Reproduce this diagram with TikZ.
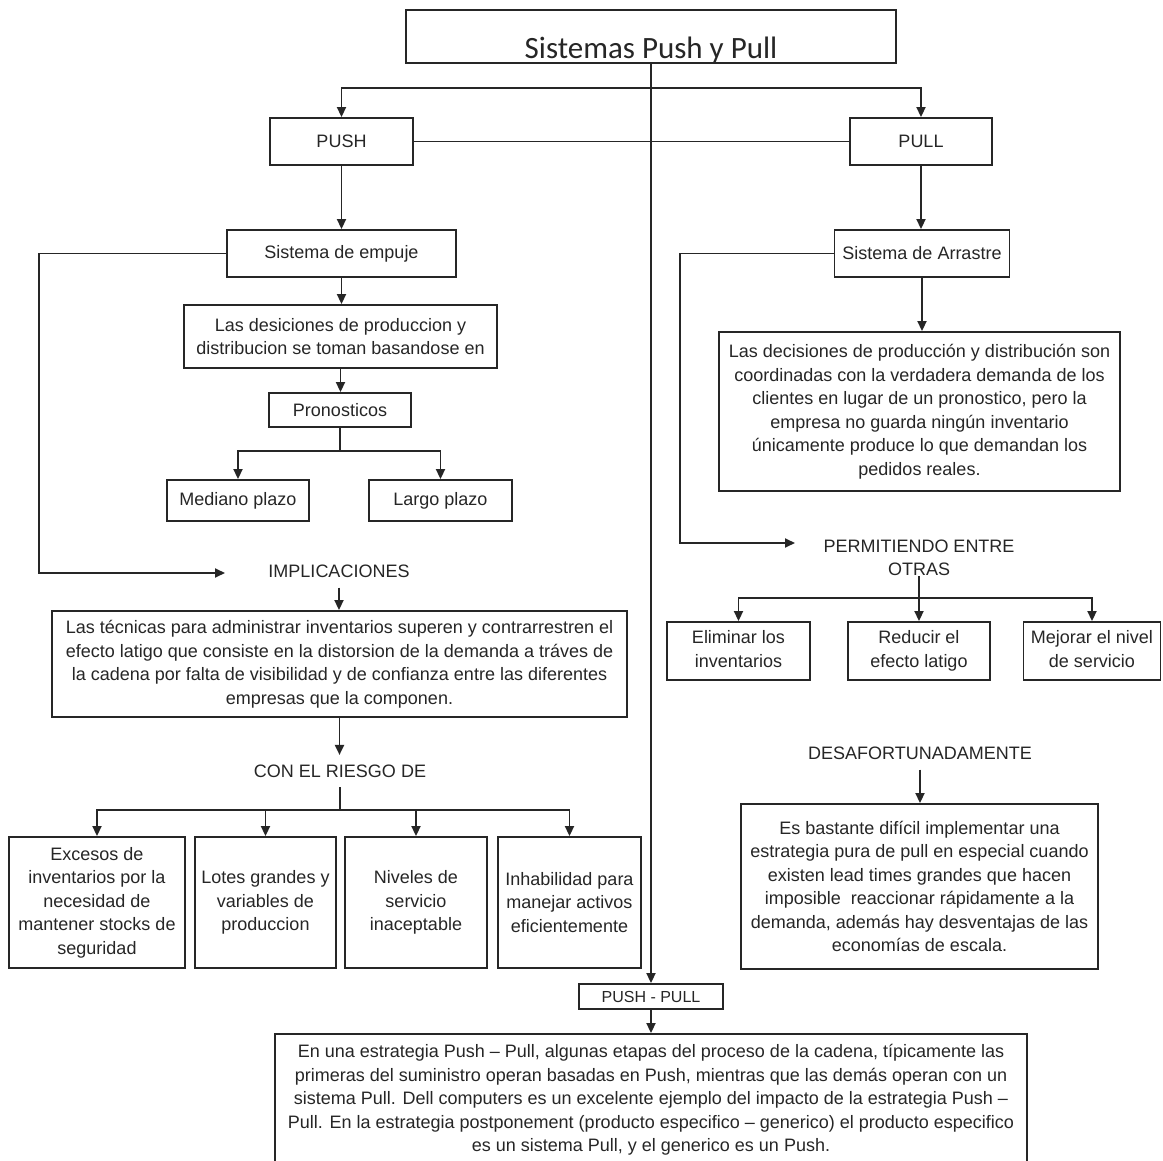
\documentclass[tikz,border=0pt]{standalone}
\usepackage{fontspec}
\setmainfont{Liberation Sans}
\newfontfamily\titlefont{Carlito}
\usetikzlibrary{arrows.meta}
\newcommand\bodyfs{\fontsize{18}{23.5}\selectfont}
\newcommand\smallfs{\fontsize{16}{20}\selectfont}
\begin{document}
\begin{tikzpicture}[x=1pt,y=-1pt,
  box/.style={draw=black!85, line width=1.9pt, inner sep=0pt, align=center, font=\bodyfs, text=black!85},
  lbl/.style={align=center, font=\bodyfs, text=black!85},
  ln/.style={line width=1.9pt, draw=black!85},
  arr/.style={ln, -{Triangle[length=10pt,width=9pt]}}]
\useasboundingbox (0,0) rectangle (1163,1161);
\clip (0,0) rectangle (1163,1161);
\fill[white] (0,0) rectangle (1163,1161);

% title
\node[box, minimum width=490pt, minimum height=53pt] (title) at (651,36.5)
  {\titlefont\fontsize{31}{31}\selectfont\raisebox{-22.5pt}[0pt][0pt]{Sistemas Push y Pull}};

% level 1
\node[box, minimum width=143pt, minimum height=47pt] (push) at (341.5,141.5) {PUSH};
\node[box, minimum width=142pt, minimum height=47pt] (pull) at (921,141.5) {PULL};
\node[box, minimum width=229pt, minimum height=47pt] (empuje) at (341.5,253.5) {Sistema de empuje};
\node[box, minimum width=175pt, minimum height=47pt] (arrastre) at (922,253.5) {Sistema de Arrastre};

% left branch
\node[box, minimum width=313pt, minimum height=63pt] (desicl) at (340.5,336.5)
  {Las desiciones de produccion y\\distribucion se toman basandose en};
\node[box, minimum width=142pt, minimum height=34pt] (prono) at (340,410) {Pronosticos};
\node[box, minimum width=142pt, minimum height=41pt] (mediano) at (238,500.5) {Mediano plazo};
\node[box, minimum width=143pt, minimum height=41pt] (largo) at (440.5,500.5) {Largo plazo};
\node[lbl, inner sep=10pt] (impl) at (339,571) {IMPLICACIONES};
\node[box, minimum width=575pt, minimum height=106pt] (tecnicas) at (339.5,664)
  {Las técnicas para administrar inventarios superen y contrarrestren el\\efecto latigo que consiste en la distorsion de la demanda a tráves de\\la cadena por falta de visibilidad y de confianza entre las diferentes\\empresas que la componen.};
\node[lbl, inner sep=9.5pt] (riesgo) at (340,771) {CON EL RIESGO DE};
\node[box, minimum width=176pt, minimum height=131pt] (ex1) at (97,902.5)
  {Excesos de\\inventarios por la\\necesidad de\\mantener stocks de\\seguridad};
\node[box, minimum width=141pt, minimum height=131pt] (ex2) at (265.5,902.5)
  {Lotes grandes y\\variables de\\produccion};
\node[box, minimum width=142pt, minimum height=131pt] (ex3) at (416,902.5)
  {Niveles de\\servicio\\inaceptable};
\node[box, minimum width=143pt, minimum height=131pt] (ex4) at (569.5,902.5)
  {Inhabilidad para\\manejar activos\\eficientemente};

% center bottom
\node[box, font=\smallfs, minimum width=144pt, minimum height=25pt] (pp) at (651,996.5) {PUSH - PULL};
\node[box, minimum width=752pt, minimum height=132pt] (final) at (651,1100)
  {En una estrategia Push – Pull, algunas etapas del proceso de la cadena, típicamente las\\primeras del suministro operan basadas en Push, mientras que las demás operan con un\\sistema Pull. Dell computers es un excelente ejemplo del impacto de la estrategia Push –\\Pull. En la estrategia postponement (producto especifico – generico) el producto especifico\\es un sistema Pull, y el generico es un Push.};

% right branch
\node[box, minimum width=401pt, minimum height=159pt] (pullbox) at (919.5,411.5)
  {Las decisiones de producción y distribución son\\coordinadas con la verdadera demanda de los\\clientes en lugar de un pronostico, pero la\\empresa no guarda ningún inventario\\únicamente produce lo que demandan los\\pedidos reales.};
\node[lbl, inner sep=0pt] (permit) at (919,558) {PERMITIENDO ENTRE\\OTRAS};
\node[box, minimum width=143pt, minimum height=58pt] (elim) at (738.5,651) {Eliminar los\\inventarios\vphantom{g}};
\node[box, minimum width=142pt, minimum height=58pt] (reduc) at (919,651) {Reducir el\\efecto latigo};
\node[box, minimum width=137pt, minimum height=58pt] (mejor) at (1092,651) {Mejorar el nivel\\de servicio\vphantom{g}};
\node[lbl, inner sep=10pt] (desaf) at (920,753) {DESAFORTUNADAMENTE};
\node[box, minimum width=357pt, minimum height=165pt] (desbox) at (919.5,886.5)
  {Es bastante difícil implementar una\\estrategia pura de pull en especial cuando\\existen lead times grandes que hacen\\imposible\ \ reaccionar rápidamente a la\\demanda, además hay desventajas de las\\economías de escala.};

% connectors
\coordinate (tj) at (651,88);
\draw[arr] (title.south) -- (pp.north);
\draw[arr] (tj) -| (push.north);
\draw[arr] (tj) -| (pull.north);
\draw[ln] (push.east) -- (pull.west);
\draw[arr] (push.south) -- (push.south |- empuje.north);
\draw[arr] (pull.south) -- (pull.south |- arrastre.north);

\coordinate (lt) at (39,573);
\coordinate (ltend) at (225,573);
\draw[arr] (empuje.west) -| (lt) -- (ltend);
\coordinate (rt) at (680,543);
\coordinate (rtend) at (795,543);
\draw[arr] (arrastre.west) -| (rt) -- (rtend);

\draw[arr] (empuje.south) -- (empuje.south |- desicl.north);
\draw[arr] (desicl.south) -- (desicl.south |- prono.north);
\coordinate (pj) at (340,451);
\draw[ln] (prono.south) -- (pj);
\draw[arr] (pj) -| (mediano.north);
\draw[arr] (pj) -| (largo.north);

\draw[arr] (impl.south) -- (impl.south |- tecnicas.north);
\draw[arr] (tecnicas.south) -- (tecnicas.south |- riesgo.north);
\coordinate (rj) at (340,810);
\draw[ln] (riesgo.south) -- (rj);
\draw[arr] (rj) -| (ex1.north);
\draw[arr] (rj) -| (ex2.north);
\draw[arr] (rj) -| (ex3.north);
\draw[arr] (rj) -| (ex4.north);

\draw[arr] (pp.south) -- (final.north);

\draw[arr] (arrastre.south) -- (arrastre.south |- pullbox.north);
\coordinate (pj2) at (919,598);
\draw[ln] (permit.south) -- (pj2);
\draw[arr] (pj2) -| (elim.north);
\draw[arr] (pj2) -- (reduc.north);
\draw[arr] (pj2) -| (mejor.north);
\draw[arr] (desaf.south) -- (desaf.south |- desbox.north);
\end{tikzpicture}
\end{document}
